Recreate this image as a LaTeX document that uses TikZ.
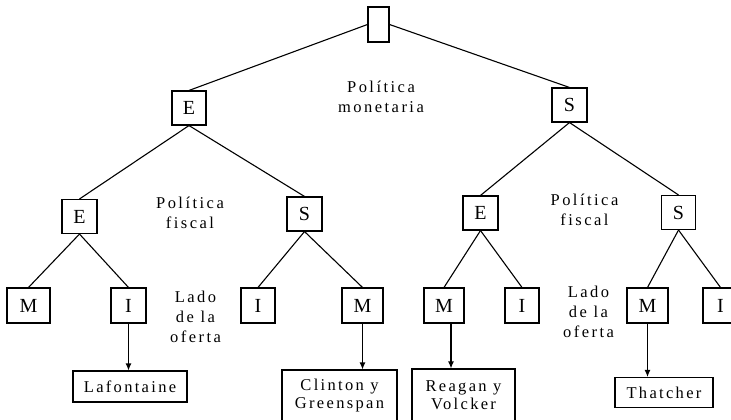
\documentclass[tikz,border=0pt]{standalone}
\usepackage{fontspec}
\setmainfont{Liberation Serif}
\usetikzlibrary{arrows.meta}
\tikzset{
  box/.style={draw, line width=1.1pt, inner sep=0pt, minimum height=34pt, font=\fontsize{20}{20}\selectfont},
  lbl/.style={align=center, inner sep=0pt, font=\fontsize{16.5}{20}\selectfont\addfontfeatures{LetterSpace=15}},
  namebox/.style={draw, line width=1.1pt, align=center, inner sep=0pt, font=\fontsize{16.5}{18}\selectfont\addfontfeatures{LetterSpace=14}},
  edge/.style={line width=1.1pt},
  arr/.style={line width=1.1pt, -{Latex[length=7pt,width=6pt]}},
}
\begin{document}
\begin{tikzpicture}[x=1pt,y=-1pt]
\useasboundingbox (0,0) rectangle (731,420);
\clip (0,0) rectangle (731,420);
% level 0 and 1
\node[box, minimum width=21pt, minimum height=35pt] (root) at (378.5,24.5) {};
\node[box, minimum width=34pt] (E1) at (189,108) {E};
\node[box, minimum width=35pt] (S1) at (569.5,105) {S};
% level 2
\node[box, minimum width=35pt] (E2a) at (79.5,216.5) {E};
\node[box, minimum width=35pt] (S2a) at (304.5,214) {S};
\node[box, minimum width=35pt] (E2b) at (480.5,213) {E};
\node[box, minimum width=34pt] (S2b) at (678.5,212.5) {S};
% level 3
\node[box, minimum width=43pt, minimum height=35pt] (M3a) at (28.5,305.5) {M};
\node[box, minimum width=35pt, minimum height=35pt] (I3a) at (128.5,305.5) {I};
\node[box, minimum width=34pt, minimum height=35pt] (I3b) at (258,305.5) {I};
\node[box, minimum width=41pt, minimum height=35pt] (M3b) at (362.5,305.5) {M};
\node[box, minimum width=40pt, minimum height=35pt] (M3c) at (444,305.5) {M};
\node[box, minimum width=34pt, minimum height=35pt] (I3c) at (522,305.5) {I};
\node[box, minimum width=41pt, minimum height=35pt] (M3d) at (647.5,305.5) {M};
\node[box, minimum width=35pt, minimum height=35pt] (I3d) at (720.5,305.5) {I};
% outcome boxes
\node[namebox, minimum width=114pt, minimum height=31pt] (Laf) at (130,386.5) {Lafontaine};
\node[namebox, minimum width=115pt, minimum height=51pt] (Clin) at (339.5,395.5) {Clinton y\\Greenspan};
\node[namebox, minimum width=103pt, minimum height=52pt] (Reag) at (463.5,395) {Reagan y\\Volcker};
\node[namebox, minimum width=98pt, minimum height=30pt] (That) at (664,392.5) {Thatcher};
% labels
\node[lbl] (pm) at (381,97) {Política\\monetaria};
\node[lbl] (pf1) at (190,213) {Política\\fiscal};
\node[lbl] (pf2) at (584.5,210) {Política\\fiscal};
\node[lbl] (lo1) at (195.5,317) {Lado\\de la\\oferta};
\node[lbl] (lo2) at (588.5,311.5) {Lado\\de la\\oferta};
% tree edges
\draw[edge] (root.west) -- (E1.north);
\draw[edge] (root.east) -- (S1.north);
\draw[edge] (E1.south) -- (E2a.north);
\draw[edge] (E1.south) -- (S2a.north);
\draw[edge] (S1.south) -- (E2b.north);
\draw[edge] (S1.south) -- (S2b.north);
\draw[edge] (E2a.south) -- (M3a.north);
\draw[edge] (E2a.south) -- (I3a.north);
\draw[edge] (S2a.south) -- (I3b.north);
\draw[edge] (S2a.south) -- (M3b.north);
\draw[edge] (E2b.south) -- (M3c.north);
\draw[edge] (E2b.south) -- (I3c.north);
\draw[edge] (S2b.south) -- (M3d.north);
\draw[edge] (S2b.south) -- (I3d.north);
% arrows
\draw[arr] (I3a.south) -- (I3a.south |- Laf.north);
\draw[arr] (M3b.south) -- (M3b.south |- Clin.north);
\draw[arr] ([xshift=7pt]M3c.south) -- ([xshift=7pt]M3c.south |- Reag.north);
\draw[arr] (M3d.south) -- (M3d.south |- That.north);
\end{tikzpicture}
\end{document}
